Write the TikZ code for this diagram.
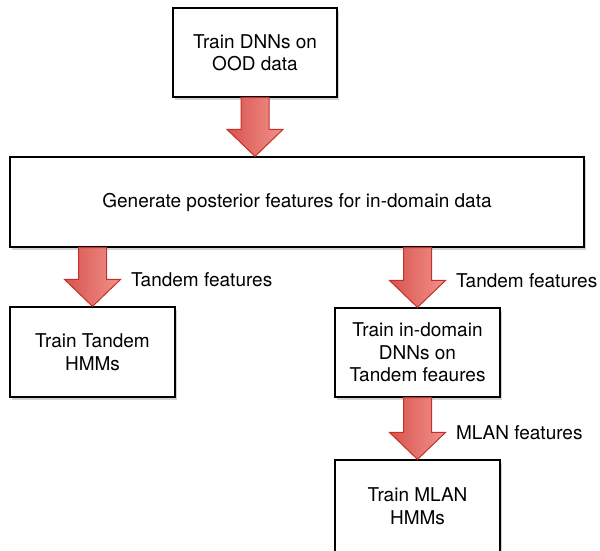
\documentclass[tikz,border=0pt]{standalone}
\usepackage{fontspec}
\setmainfont{TeX Gyre Heros}
\usetikzlibrary{shadows,calc}

\definecolor{arrowdark}{RGB}{216,84,78}
\definecolor{arrowlight}{RGB}{246,156,150}
\definecolor{arrowedge}{RGB}{196,48,38}

\tikzset{
  stepbox/.style={draw, line width=1.2pt, fill=white, align=center, inner sep=0pt,
    font=\fontsize{19}{22.5}\selectfont,
    drop shadow={opacity=0.35, shadow xshift=2pt, shadow yshift=-3pt}},
  fatarrow/.style={draw=arrowedge, line width=1pt, line join=miter,
    left color=arrowdark, right color=arrowlight},
  arrowlabel/.style={anchor=west, inner sep=0pt, font=\fontsize{19}{22.5}\selectfont}
}

% fat arrow from the bottom of #2 to the top of #3, on the axis of #1, label #4
\newcommand\fatarrow[4]{
  \path let \p1=(#2.south), \p2=(#3.north), \p3=(#1.center) in
    [fatarrow] (\x3-14pt,\y1) -- (\x3+14pt,\y1) -- (\x3+14pt,\y2+27pt)
      -- (\x3+28pt,\y2+27pt) -- (\x3,\y2) -- (\x3-28pt,\y2+27pt)
      -- (\x3-14pt,\y2+27pt) -- cycle
    (\x3+38pt,\y2+27pt) node[arrowlabel] (#3-lbl) {#4};
}

\begin{document}
\begin{tikzpicture}[x=1pt,y=1pt]
      \useasboundingbox (0,0) rectangle (600,550);

      \node[stepbox, minimum width=164pt, minimum height=89pt] (ood) at (255,497.5)
        {Train DNNs on\\OOD data};
      \node[stepbox, minimum width=574pt, minimum height=90pt] (gen) at (297,348)
        {Generate posterior features for in-domain data};
      \node[stepbox, minimum width=165pt, minimum height=90pt] (tandem) at (92.5,198)
        {Train Tandem\\HMMs};
      \node[stepbox, minimum width=165pt, minimum height=89pt] (indomain) at (417.5,197.5)
        {Train in-domain\\DNNs on\\Tandem feaures};
      \node[stepbox, minimum width=165pt, minimum height=92pt] (mlan) at (417.5,44)
        {Train MLAN\\HMMs};

      \fatarrow{ood}{ood}{gen}{}
      \fatarrow{tandem}{gen}{tandem}{Tandem features}
      \fatarrow{indomain}{gen}{indomain}{Tandem features}
      \fatarrow{indomain}{indomain}{mlan}{MLAN features}
\end{tikzpicture}
\end{document}
